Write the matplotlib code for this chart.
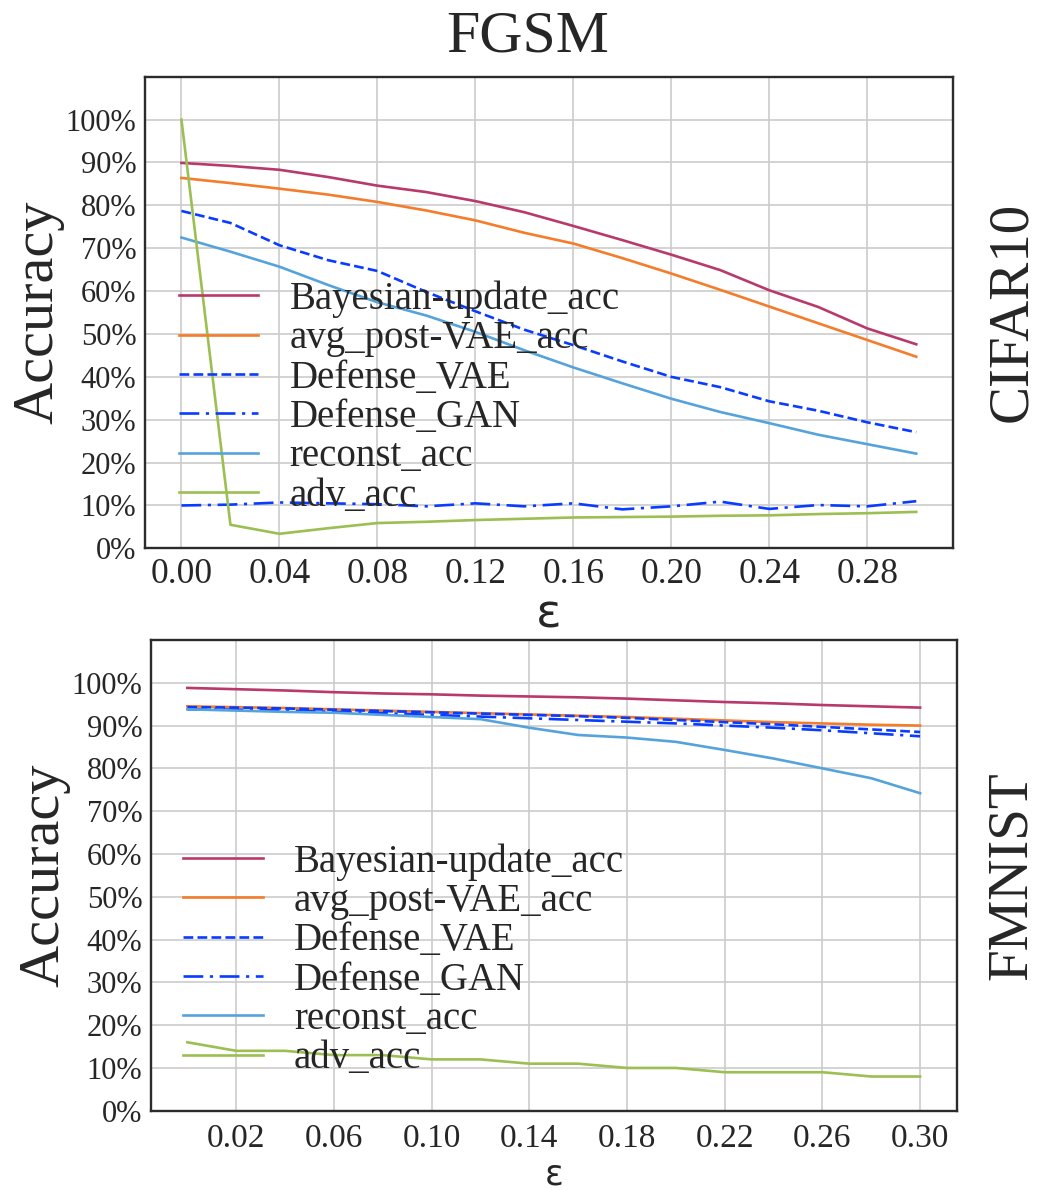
import matplotlib
matplotlib.use("Agg")
import matplotlib.pyplot as plt
from matplotlib.ticker import PercentFormatter

plt.rcParams['font.family'] = ['Liberation Serif', 'DejaVu Serif']
plt.rcParams['text.color'] = '#262626'
plt.rcParams['axes.labelcolor'] = '#262626'
plt.rcParams['xtick.color'] = '#262626'
plt.rcParams['ytick.color'] = '#262626'

eps = [0.00, 0.02, 0.04, 0.06, 0.08, 0.10, 0.12, 0.14,
       0.16, 0.18, 0.20, 0.22, 0.24, 0.26, 0.28, 0.30]
labels = ["Bayesian-update_acc", "avg_post-VAE_acc", "Defense_VAE",
          "Defense_GAN", "reconst_acc", "adv_acc"]

# CIFAR10
bayes_c = [0.899, 0.892, 0.883, 0.866, 0.846, 0.831, 0.810, 0.784,
           0.752, 0.719, 0.685, 0.649, 0.602, 0.563, 0.513, 0.476]
avg_c = [0.864, 0.852, 0.839, 0.825, 0.808, 0.788, 0.765, 0.736,
         0.711, 0.677, 0.641, 0.603, 0.564, 0.525, 0.486, 0.447]
vae_c = [0.787, 0.759, 0.707, 0.672, 0.647, 0.598, 0.553, 0.510,
         0.474, 0.436, 0.400, 0.376, 0.343, 0.321, 0.294, 0.271]
gan_c = [0.100, 0.102, 0.107, 0.105, 0.103, 0.098, 0.105, 0.098,
         0.105, 0.091, 0.098, 0.109, 0.092, 0.101, 0.098, 0.110]
rec_c = [0.725, 0.692, 0.657, 0.614, 0.574, 0.543, 0.505, 0.462,
         0.422, 0.385, 0.349, 0.318, 0.292, 0.265, 0.243, 0.221]
adv_c = [1.000, 0.055, 0.034, 0.047, 0.059, 0.062, 0.066, 0.069,
         0.072, 0.073, 0.074, 0.076, 0.077, 0.080, 0.082, 0.085]

# FMNIST
bayes_f = [0.988, 0.985, 0.982, 0.978, 0.975, 0.973, 0.970, 0.968,
           0.966, 0.963, 0.959, 0.955, 0.952, 0.948, 0.945, 0.942]
avg_f = [0.945, 0.943, 0.941, 0.938, 0.935, 0.932, 0.929, 0.926,
         0.923, 0.920, 0.916, 0.912, 0.908, 0.905, 0.902, 0.900]
vae_f = [0.943, 0.942, 0.940, 0.937, 0.934, 0.931, 0.928, 0.925,
         0.922, 0.918, 0.913, 0.908, 0.903, 0.897, 0.891, 0.885]
gan_f = [0.938, 0.937, 0.935, 0.932, 0.929, 0.925, 0.921, 0.917,
         0.913, 0.909, 0.905, 0.900, 0.895, 0.889, 0.882, 0.875]
rec_f = [0.938, 0.935, 0.932, 0.930, 0.925, 0.920, 0.915, 0.895,
         0.878, 0.872, 0.862, 0.843, 0.823, 0.800, 0.777, 0.742]
adv_f = [0.16, 0.14, 0.14, 0.13, 0.13, 0.12, 0.12, 0.11,
         0.11, 0.10, 0.10, 0.09, 0.09, 0.09, 0.08, 0.08]

colors = ['#b8396a', '#f47c2a', '#0a3cff', '#0a3cff', '#56a3dc', '#9bbf52']
styles = ['-', '-', '--', (0, (7.5, 2.5, 1.2, 2.5)), '-', '-']


def panel(ax, series, xticks, tick_fs, eps_fs, eps_pad, tick_pad, leg_xy):
  for s, lab, c, ls in zip(series, labels, colors, styles):
    ax.plot(eps, s, color=c, ls=ls, lw=1.9, label=lab)
  ax.set_xlim(-0.015, 0.315)
  ax.set_ylim(0, 1.1)
  ax.set_yticks([i / 10 for i in range(11)])
  ax.yaxis.set_major_formatter(PercentFormatter(1.0, decimals=0))
  ax.set_xticks(xticks)
  ax.set_xticklabels(["%.2f" % t for t in xticks])
  ax.grid(True, color='#cccccc', lw=1.2)
  ax.set_axisbelow(True)
  for sp in ax.spines.values():
    sp.set_color('#2b2b2b')
    sp.set_linewidth(1.7)
  ax.tick_params(axis='x', length=0, labelsize=tick_fs, pad=tick_pad)
  ax.tick_params(axis='y', length=0, labelsize=22, pad=6)
  ax.set_ylabel("Accuracy", fontsize=42, labelpad=1)
  ax.set_xlabel("ε", fontsize=eps_fs, family=['DejaVu Sans'], labelpad=eps_pad)
  ax.legend(loc='center left', bbox_to_anchor=leg_xy, frameon=False,
            fontsize=28, handlelength=2.05, handletextpad=0.8,
            labelspacing=0.06, borderpad=0, borderaxespad=0)


fig = plt.figure(figsize=(10.38, 11.9), dpi=100)
ax1 = fig.add_axes([0.1394, 0.5392, 0.9181 - 0.1394, 0.9355 - 0.5392])
ax2 = fig.add_axes([0.1452, 0.0666, 0.9217 - 0.1452, 0.4622 - 0.0666])

panel(ax1, [bayes_c, avg_c, vae_c, gan_c, rec_c, adv_c],
      [0.00, 0.04, 0.08, 0.12, 0.16, 0.20, 0.24, 0.28],
      25.5, 34, 1, 7, (0.042, 0.3195))
panel(ax2, [bayes_f, avg_f, vae_f, gan_f, rec_f, adv_f],
      [0.02, 0.06, 0.10, 0.14, 0.18, 0.22, 0.26, 0.30],
      24, 25, 3, 9, (0.040, 0.3195))

fig.text(0.508, 1 - 38 / 1190, "FGSM", fontsize=43, ha='center', va='center')
fig.text(0.975, 1 - 312 / 1190, "CIFAR10", fontsize=41, rotation=90,
         ha='center', va='center')
fig.text(0.975, 1 - 876 / 1190, "FMNIST", fontsize=41, rotation=90,
         ha='center', va='center')

fig.savefig("out.png", dpi=100, facecolor='white')
